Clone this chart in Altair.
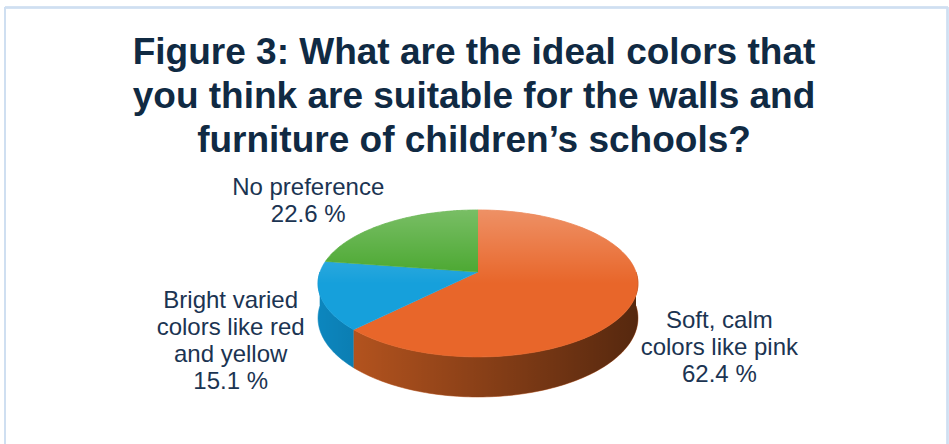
import altair as alt
import pandas as pd

# ---- data -------------------------------------------------------------
categories = [
    "Soft, calm colors like pink",
    "Bright varied colors like red and yellow",
    "No preference",
]
label_lines = [
    "Soft, calm\ncolors like pink",
    "Bright varied\ncolors like red\nand yellow",
    "No preference",
]
values = [62.4, 15.1, 22.6]
slice_order = [0, 1, 2]
top_colors = ["#E8662A", "#16A0DB", "#45A52A"]
wall_colors = ["#BE5820", "#0C86BE", "#2F7D1C"]
title_lines = [
    "Figure 3: What are the ideal colors that",
    "you think are suitable for the walls and",
    "furniture of children\u2019s schools?",
]

# ---- geometry / style constants --------------------------------------
N = 120          # points per arc
P = 0.156        # perspective factor
WALL = 0.471     # wall height (in y-scale units)
Y_UNIT_PX = 71.7 # pixels per y-scale unit
LINE_H = 27      # label line height in px
FONT = "Liberation Sans"
TEXT_COLOR = "#1B3452"

df = pd.DataFrame({
    "category": categories,
    "label": label_lines,
    "value": values,
    "order": slice_order,
})

xs = alt.Scale(domain=[-1, 1], range=[320, 636])
ys = alt.Scale(domain=[-1, 1], range=[272 - Y_UNIT_PX, 272 + Y_UNIT_PX])

top_fill = alt.Scale(domain=categories, range=top_colors)
wall_fill = alt.Scale(domain=categories, range=wall_colors)

base = (
    alt.Chart(df)
    .transform_joinaggregate(total="sum(value)")
    .transform_window(cum="sum(value)", sort=[alt.SortField("order")], frame=[None, 0])
    .transform_calculate(
        a0="2*PI*(datum.cum - datum.value)/datum.total",
        a1="2*PI*datum.cum/datum.total",
    )
)

# ---- side walls -------------------------------------------------------
wall = (
    base.transform_calculate(w0="max(datum.a0, PI/2)", w1="min(datum.a1, 3*PI/2)")
    .transform_filter("datum.w1 > datum.w0")
    .transform_calculate(idx=f"sequence(0, {2 * N + 2})")
    .transform_flatten(["idx"])
    .transform_calculate(
        bottom=f"datum.idx > {N}",
        ang=f"datum.idx <= {N} ? datum.w0 + (datum.w1 - datum.w0) * datum.idx / {N}"
            f" : datum.w1 - (datum.w1 - datum.w0) * (datum.idx - {N + 1}) / {N}",
    )
    .transform_calculate(u="-cos(datum.ang)", s="sin(datum.ang)")
    .transform_calculate(k=f"1 / (1 - {P} * datum.u)")
    .transform_calculate(
        px="datum.s * datum.k",
        py=f"datum.u * datum.k + (datum.bottom ? {WALL} * datum.k : 0)",
    )
    .mark_line(filled=True, strokeWidth=0.6)
    .encode(
        x=alt.X("px:Q", scale=xs, axis=None),
        y=alt.Y("py:Q", scale=ys, axis=None),
        fill=alt.Fill("category:N", scale=wall_fill, legend=None),
        stroke=alt.Stroke("category:N", scale=wall_fill, legend=None),
        order=alt.Order("idx:Q"),
    )
)

# shading of the front wall (dark towards the right)
wall_shade = (
    alt.Chart(alt.sequence(0, 2 * N + 2, as_="idx"))
    .transform_calculate(
        bottom=f"datum.idx > {N}",
        ang=f"datum.idx <= {N} ? PI/2 + PI * datum.idx / {N} : 3*PI/2 - PI * (datum.idx - {N + 1}) / {N}",
    )
    .transform_calculate(u="-cos(datum.ang)", s="sin(datum.ang)")
    .transform_calculate(k=f"1 / (1 - {P} * datum.u)")
    .transform_calculate(
        px="datum.s * datum.k",
        py=f"datum.u * datum.k + (datum.bottom ? {WALL} * datum.k : 0)",
    )
    .mark_line(
        filled=True,
        strokeWidth=0,
        fill=alt.LinearGradient(
            gradient="linear",
            x1=0, x2=1, y1=0, y2=0,
            stops=[
                alt.GradientStop(color="rgba(0,0,0,0)", offset=0),
                alt.GradientStop(color="rgba(0,0,0,0.55)", offset=1),
            ],
        ),
    )
    .encode(
        x=alt.X("px:Q", scale=xs, axis=None),
        y=alt.Y("py:Q", scale=ys, axis=None),
        order=alt.Order("idx:Q"),
    )
)

# ---- top faces -------------------------------------------------------
top = (
    base.transform_calculate(idx=f"sequence(0, {N + 2})")
    .transform_flatten(["idx"])
    .transform_calculate(
        ang=f"datum.a0 + (datum.a1 - datum.a0) * max(datum.idx - 1, 0) / {N}",
        r="datum.idx == 0 ? 0 : 1",
    )
    .transform_calculate(u="-datum.r * cos(datum.ang)", s="datum.r * sin(datum.ang)")
    .transform_calculate(k=f"1 / (1 - {P} * datum.u)")
    .transform_calculate(px="datum.s * datum.k", py="datum.u * datum.k")
    .mark_line(filled=True, strokeWidth=0.6)
    .encode(
        x=alt.X("px:Q", scale=xs, axis=None),
        y=alt.Y("py:Q", scale=ys, axis=None),
        fill=alt.Fill("category:N", scale=top_fill, legend=None),
        stroke=alt.Stroke("category:N", scale=top_fill, legend=None),
        order=alt.Order("idx:Q"),
    )
)

top_shine = (
    alt.Chart(alt.sequence(0, N + 1, as_="idx"))
    .transform_calculate(ang=f"2 * PI * datum.idx / {N}")
    .transform_calculate(u="-cos(datum.ang)", s="sin(datum.ang)")
    .transform_calculate(k=f"1 / (1 - {P} * datum.u)")
    .transform_calculate(px="datum.s * datum.k", py="datum.u * datum.k")
    .mark_line(
        filled=True,
        strokeWidth=0,
        fill=alt.LinearGradient(
            gradient="linear",
            x1=0, x2=0, y1=0, y2=1,
            stops=[
                alt.GradientStop(color="rgba(255,255,255,0.28)", offset=0),
                alt.GradientStop(color="rgba(255,255,255,0)", offset=0.5),
            ],
        ),
    )
    .encode(
        x=alt.X("px:Q", scale=xs, axis=None),
        y=alt.Y("py:Q", scale=ys, axis=None),
        order=alt.Order("idx:Q"),
    )
)

# ---- labels ------------------------------------------------------------
labels = (
    base.transform_calculate(m="(datum.a0 + datum.a1) / 2")
    .transform_calculate(
        txt="datum.label + '\\n' + format(datum.value, '.1f') + ' %'",
    )
    .transform_calculate(nlines="length(split(datum.txt, '\\n'))")
    .transform_calculate(
        lx="1.65 * sin(datum.m)",
        ly=f"-1.3 * cos(datum.m) + (cos(datum.m) < 0 ? {WALL * 1.2} : 0)"
           f" - (datum.nlines - 1) * {LINE_H / 2 / Y_UNIT_PX}",
    )
    .mark_text(
        font=FONT, fontSize=24, lineHeight=LINE_H, color=TEXT_COLOR,
        align="center", baseline="middle", lineBreak="\n",
    )
    .encode(
        x=alt.X("lx:Q", scale=xs, axis=None),
        y=alt.Y("ly:Q", scale=ys, axis=None),
        text="txt:N",
    )
)

# ---- title -------------------------------------------------------------
title = (
    alt.Chart(pd.DataFrame({"t": ["\n".join(title_lines)]}))
    .mark_text(
        font=FONT, fontSize=37, fontWeight="bold", lineHeight=44,
        color="#102A43", align="center", baseline="alphabetic", lineBreak="\n",
    )
    .encode(x=alt.value(474), y=alt.value(64), text="t:N")
)

# ---- frame -------------------------------------------------------------
BORDER = "#CFDFF1"
frame_left = alt.Chart(df).mark_rule(color=BORDER, strokeWidth=2).encode(
    x=alt.value(5), y=alt.value(7), y2=alt.value(444))
frame_top = alt.Chart(df).mark_rule(color=BORDER, strokeWidth=2).encode(
    x=alt.value(5), x2=alt.value(948), y=alt.value(7.5))
frame_right = alt.Chart(df).mark_rule(color=BORDER, strokeWidth=2).encode(
    x=alt.value(947.5), y=alt.value(7), y2=alt.value(444))

chart = (
    alt.layer(wall, wall_shade, top, top_shine, labels, title,
              frame_left, frame_top, frame_right)
    .resolve_scale(fill="independent", stroke="independent")
    .properties(width=949, height=444, padding=0, autosize="none", background="white")
    .configure_view(stroke=None)
)

chart.save("out.html", embed_options={"renderer": "svg", "actions": False})
